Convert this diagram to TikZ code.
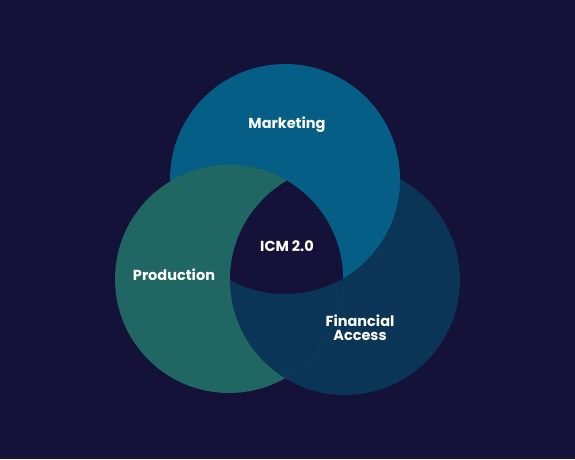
\documentclass[tikz,border=0pt]{standalone}
\usepackage{fontspec}
\setmainfont{Poppins}
\definecolor{bgc}{HTML}{141238}
\definecolor{mktc}{HTML}{055E85}
\definecolor{prodc}{HTML}{206763}
\definecolor{finc}{HTML}{0B3556}
\begin{document}
\begin{tikzpicture}[x=1pt,y=-1pt,
  lbl/.style={text=white,font=\fontsize{14.5}{16}\selectfont\bfseries,align=center,inner sep=0pt}]
\fill[bgc] (0,0) rectangle (575,459);
\useasboundingbox (0,0) rectangle (575,459);
\coordinate (cm) at (285,179);
\coordinate (cp) at (229,279);
\coordinate (cf) at (345,280);
\fill[finc] (cf) circle (115);
\fill[mktc] (cm) circle (115);
\fill[prodc] (cp) circle (114);
% cyclic overlaps
\begin{scope}
  \clip (cp) circle (114);
  \fill[prodc] (cm) circle (115);
\end{scope}
\begin{scope}
  \clip (cm) circle (115);
  \fill[mktc] (cf) circle (115);
\end{scope}
\begin{scope}
  \clip (cf) circle (115);
  \fill[finc] (cp) circle (114);
\end{scope}
\begin{scope}
  \clip (cm) circle (115);
  \clip (cp) circle (114);
  \fill[bgc] (cf) circle (115);
\end{scope}
\node[lbl] (mkt) at (287,125) {Marketing};
\node[lbl] (prod) at (174,275) {Production};
\node[lbl] (icm) at (287,246) {ICM 2.0};
\node[lbl] (fin) at (360,328) {Financial\\[-2pt]Access};
\end{tikzpicture}
\end{document}
